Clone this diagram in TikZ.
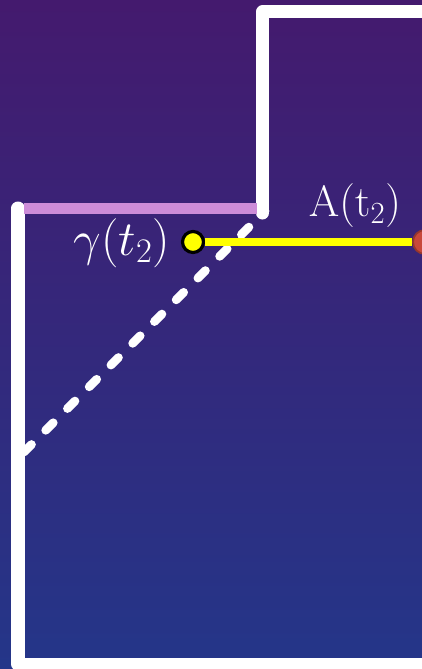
\RequirePackage{fix-cm}
\documentclass[tikz,border=0pt]{standalone}
\usepackage{amsmath,amssymb}
\usepackage{xcolor}
\definecolor{NightTop}{HTML}{441A6E}
\definecolor{NightBottom}{HTML}{243689}
\definecolor{LidPink}{HTML}{CD8CD8}
\definecolor{PathYellow}{HTML}{FFFF00}
\definecolor{TipRed}{HTML}{C8483A}
\tikzset{
  wall/.style={white,line width=7.4pt,line cap=round,line join=round},
  cutline/.style={white,line width=5pt,line cap=round,dash pattern=on 6pt off 11.5pt},
  dotnode/.style={circle,inner sep=0pt,minimum size=0.42cm,line width=1.8pt},
}
\begin{document}
\begin{tikzpicture}[x=0.02cm,y=-0.02cm]
\useasboundingbox (0,0) rectangle (422,669);
\clip (0,0) rectangle (422,669);
\shade[top color=NightTop,bottom color=NightBottom] (0,0) rectangle (422,669);
% walls
\draw[wall] (262.5,213) -- (262.5,12) -- (440,12);
\draw[wall] (18,208) -- (18,664) -- (440,664);
\draw[LidPink,line width=6.5pt] (24,208.5) -- (257,208.5);
\draw[cutline] (24,452) -- (265,211);
% points on the curve
\node[dotnode,draw=black,fill=PathYellow] (gam) at (193,242) {};
\node[dotnode,minimum size=0.48cm,draw=TipRed!75!black,fill=TipRed,line width=1pt] (tip) at (425,242) {};
\draw[PathYellow,line width=4pt] (gam) -- (tip);
\node[white,font=\fontsize{28}{32}\selectfont] (gamlab) at (122,243) {$\gamma(t_2)$};
\node[white,font=\fontsize{25}{30}\selectfont] (alab) at (355,206) {$\mathrm{A}(\mathrm{t}_2)$};
\end{tikzpicture}
\end{document}
